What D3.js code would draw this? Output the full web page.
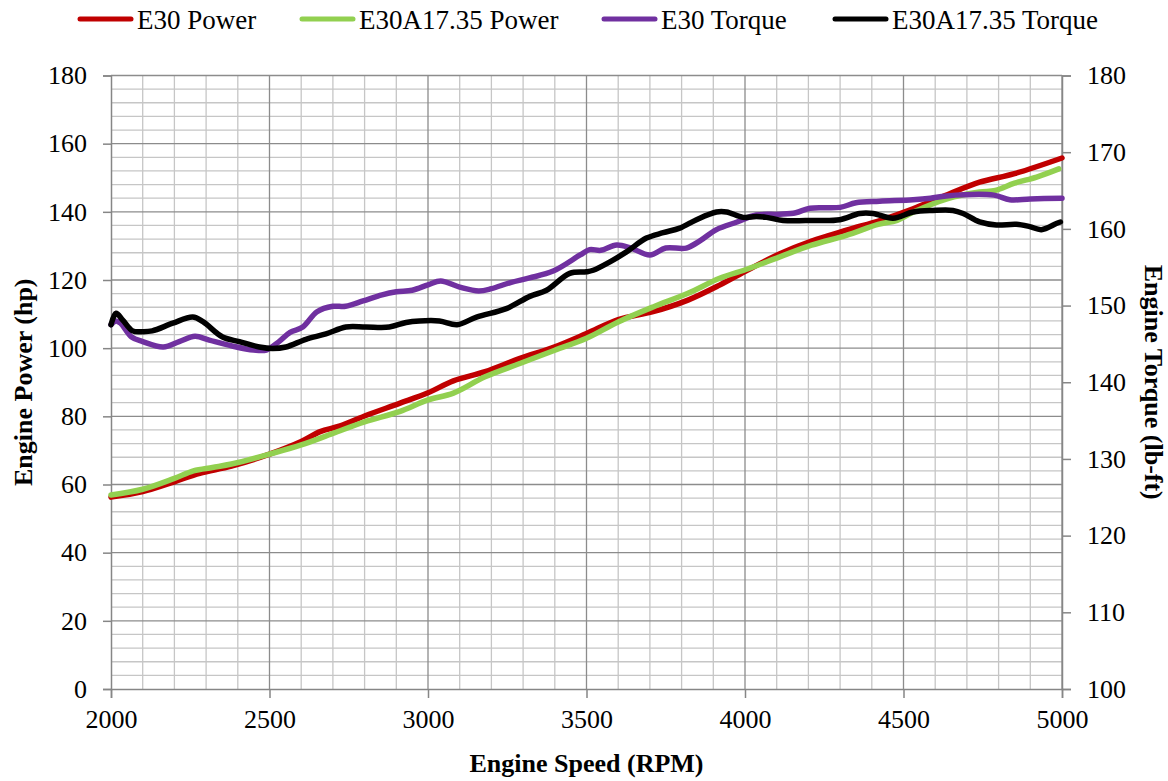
<!DOCTYPE html>
<html>
<head>
<meta charset="utf-8">
<script src="https://cdn.jsdelivr.net/npm/d3@7"></script>
<style>
  body { margin: 0; background: #fff; }
  text { font-family: "Liberation Serif", "Times New Roman", serif; fill: #000; }
</style>
</head>
<body>
<div id="chart"></div>
<script>
// readings: rpm + value pairs per series
var e30PowerRpm = [2000, 2100, 2200, 2280, 2380, 2500, 2600, 2660, 2720, 2800, 2910, 3000, 3080, 3180, 3290, 3400, 3500, 3600, 3710, 3820, 3920, 4010, 4110, 4210, 4320, 4430, 4530, 4640, 4740, 4850, 5000];
var e30Power    = [56.3, 57.9, 60.8, 63.3, 65.4, 68.9, 72.6, 75.5, 77.1, 80.1, 83.8, 86.9, 90.4, 93.1, 97.0, 100.4, 104.3, 108.4, 110.7, 114.1, 118.5, 123.0, 127.7, 131.4, 134.6, 137.6, 140.9, 145.1, 148.7, 151.2, 155.8];

var e30aPowerRpm = [2000, 2100, 2200, 2260, 2320, 2380, 2500, 2600, 2700, 2800, 2910, 3000, 3080, 3180, 3290, 3400, 3500, 3600, 3710, 3820, 3920, 4010, 4110, 4210, 4320, 4420, 4480, 4530, 4640, 4740, 4790, 4850, 4920, 4990];
var e30aPower    = [56.9, 58.6, 61.8, 64.0, 65.0, 66.0, 68.9, 71.6, 75.0, 78.4, 81.4, 84.8, 86.8, 91.6, 95.5, 99.4, 102.9, 107.7, 112.1, 116.1, 120.5, 123.3, 126.8, 130.2, 133.1, 136.3, 137.5, 139.9, 143.9, 145.8, 146.3, 148.4, 150.2, 152.6];

var e30TorqueRpm = [2000, 2015, 2030, 2065, 2100, 2165, 2215, 2265, 2310, 2385, 2450, 2490, 2530, 2565, 2605, 2650, 2700, 2740, 2795, 2855, 2900, 2950, 3000, 3040, 3100, 3160, 3200, 3260, 3320, 3395, 3480, 3510, 3545, 3595, 3640, 3700, 3750, 3815, 3860, 3910, 3975, 4035, 4110, 4160, 4205, 4300, 4350, 4425, 4530, 4585, 4635, 4785, 4835, 4900, 5000];
var e30Torque    = [147.5, 148.0, 147.7, 145.9, 145.3, 144.6, 145.3, 146.0, 145.5, 144.7, 144.2, 144.2, 145.3, 146.5, 147.2, 149.2, 149.9, 149.9, 150.6, 151.4, 151.8, 152.0, 152.7, 153.2, 152.4, 151.9, 152.2, 153.0, 153.6, 154.5, 156.6, 157.3, 157.2, 157.9, 157.5, 156.6, 157.5, 157.5, 158.5, 159.9, 160.9, 161.8, 161.9, 162.1, 162.7, 162.8, 163.4, 163.6, 163.8, 164.0, 164.3, 164.4, 163.8, 163.9, 164.0];

var e30aTorqueRpm = [2000, 2016, 2037, 2068, 2100, 2130, 2195, 2258, 2290, 2352, 2405, 2468, 2510, 2552, 2615, 2678, 2741, 2804, 2878, 2931, 2973, 3036, 3092, 3153, 3247, 3321, 3374, 3447, 3500, 3521, 3574, 3626, 3689, 3742, 3794, 3847, 3910, 3942, 3994, 4036, 4068, 4120, 4215, 4299, 4362, 4404, 4467, 4530, 4593, 4656, 4688, 4740, 4793, 4856, 4898, 4935, 4982, 4995];
var e30aTorque    = [147.5, 149.0, 148.1, 146.7, 146.6, 146.7, 147.7, 148.5, 147.9, 145.9, 145.3, 144.6, 144.4, 144.6, 145.6, 146.3, 147.2, 147.2, 147.2, 147.8, 148.0, 148.0, 147.5, 148.5, 149.6, 151.2, 152.0, 154.2, 154.4, 154.6, 155.7, 157.0, 158.8, 159.5, 160.1, 161.2, 162.2, 162.2, 161.5, 161.6, 161.5, 161.1, 161.1, 161.2, 162.0, 162.0, 161.4, 162.2, 162.4, 162.4, 162.0, 160.9, 160.5, 160.6, 160.3, 159.9, 160.7, 160.9];

var seriesNames = ["E30 Power", "E30A17.35 Power", "E30 Torque", "E30A17.35 Torque"];
var seriesColors = ["#c00000", "#92d050", "#7030a0", "#000000"];

var speedTicks = [2000, 2500, 3000, 3500, 4000, 4500, 5000];
var powerTicks = [0, 20, 40, 60, 80, 100, 120, 140, 160, 180];
var torqueTicks = [100, 110, 120, 130, 140, 150, 160, 170, 180];

var W = 1168, H = 781;
var plotL = 111, plotR = 1062, plotT = 75.5, plotB = 689;

var svg = d3.select("#chart").append("svg")
    .attr("width", W)
    .attr("height", H);

var x = d3.scaleLinear().domain([2000, 5000]).range([plotL, plotR]);
var yPow = d3.scaleLinear().domain([0, 180]).range([plotB, plotT]);
var yTq = d3.scaleLinear().domain([100, 180]).range([plotB, plotT]);

// minor grid
var grid = svg.append("g");
grid.selectAll(".vminor")
    .data(d3.range(2100, 5000, 100).filter(function(d) { return d % 500 != 0; }))
    .enter().append("line")
    .attr("x1", function(d) { return x(d); }).attr("x2", function(d) { return x(d); })
    .attr("y1", plotT).attr("y2", plotB)
    .style("stroke", "#c6c6c6").style("stroke-width", 1.3);
grid.selectAll(".hminor")
    .data(d3.range(4, 180, 4).filter(function(d) { return d % 20 != 0; }))
    .enter().append("line")
    .attr("y1", function(d) { return yPow(d); }).attr("y2", function(d) { return yPow(d); })
    .attr("x1", plotL).attr("x2", plotR)
    .style("stroke", "#c6c6c6").style("stroke-width", 1.3);
// major grid
grid.selectAll(".vmajor")
    .data(speedTicks.slice(1))
    .enter().append("line")
    .attr("x1", function(d) { return x(d); }).attr("x2", function(d) { return x(d); })
    .attr("y1", plotT).attr("y2", plotB)
    .style("stroke", "#8c8c8c").style("stroke-width", 1.3);
grid.selectAll(".hmajor")
    .data(powerTicks.slice(1))
    .enter().append("line")
    .attr("y1", function(d) { return yPow(d); }).attr("y2", function(d) { return yPow(d); })
    .attr("x1", plotL).attr("x2", plotR)
    .style("stroke", "#8c8c8c").style("stroke-width", 1.3);

// axes
var xAxis = svg.append("g")
    .attr("transform", "translate(0," + plotB + ")")
    .call(d3.axisBottom(x).tickValues(speedTicks).tickSize(9).tickPadding(12).tickFormat(d3.format("d")));
var yAxisL = svg.append("g")
    .attr("transform", "translate(" + plotL + ",0)")
    .call(d3.axisLeft(yPow).tickValues(powerTicks).tickSize(8).tickPadding(16));
var yAxisR = svg.append("g")
    .attr("transform", "translate(" + plotR + ",0)")
    .call(d3.axisRight(yTq).tickValues(torqueTicks).tickSize(9).tickPadding(16));

[xAxis, yAxisL, yAxisR].forEach(function(a) {
  a.select(".domain").style("stroke", "#868686").style("stroke-width", 1.5);
  a.selectAll(".tick line").style("stroke", "#868686").style("stroke-width", 1.5);
  a.selectAll(".tick text")
    .style("font-family", "'Liberation Serif', serif")
    .style("font-size", "26px")
    .style("fill", "#000");
});

// series lines
var rpms = [e30PowerRpm, e30aPowerRpm, e30TorqueRpm, e30aTorqueRpm];
var vals = [e30Power, e30aPower, e30Torque, e30aTorque];
var scales = [yPow, yPow, yTq, yTq];

rpms.forEach(function(r, i) {
  var pts = r.map(function(d, j) { return [d, vals[i][j]]; });
  var line = d3.line()
      .x(function(d) { return x(d[0]); })
      .y(function(d) { return scales[i](d[1]); })
      .curve(d3.curveCatmullRom.alpha(0.5));
  svg.append("path")
      .datum(pts)
      .attr("d", line)
      .style("fill", "none")
      .style("stroke", seriesColors[i])
      .style("stroke-width", 5.5)
      .style("stroke-linejoin", "round")
      .style("stroke-linecap", "round");
});

// axis titles
svg.append("text")
    .attr("x", (plotL + plotR) / 2)
    .attr("y", 772)
    .attr("text-anchor", "middle")
    .style("font-size", "26px")
    .style("font-weight", "bold")
    .text("Engine Speed (RPM)");

svg.append("text")
    .attr("transform", "translate(32," + (plotT + plotB) / 2 + ") rotate(-90)")
    .attr("text-anchor", "middle")
    .style("font-size", "26px")
    .style("font-weight", "bold")
    .text("Engine Power (hp)");

svg.append("text")
    .attr("transform", "translate(1145," + (plotT + plotB) / 2 + ") rotate(90)")
    .attr("text-anchor", "middle")
    .style("font-size", "26px")
    .style("font-weight", "bold")
    .text("Engine Torque (lb-ft)");

// legend
var legendX = [78, 300, 602, 833];
var legend = svg.append("g");
seriesNames.forEach(function(name, i) {
  legend.append("line")
      .attr("x1", legendX[i] + 2).attr("x2", legendX[i] + 53)
      .attr("y1", 19).attr("y2", 19)
      .style("stroke", seriesColors[i])
      .style("stroke-width", 5)
      .style("stroke-linecap", "round");
  legend.append("text")
      .attr("x", legendX[i] + 59)
      .attr("y", 29)
      .style("font-size", "27px")
      .text(name);
});
</script>
</body>
</html>
